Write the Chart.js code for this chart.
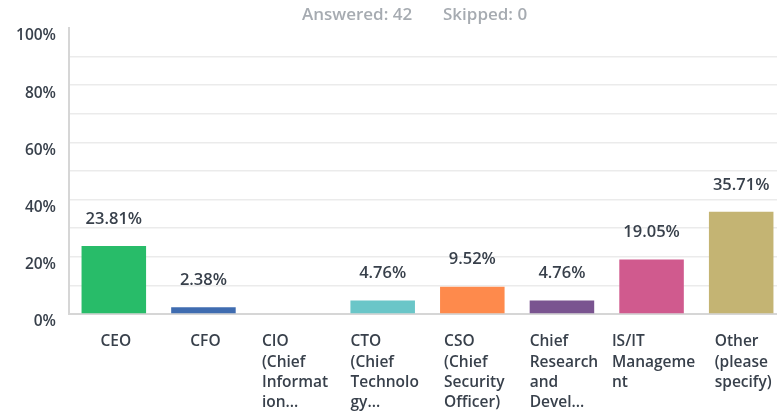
<!DOCTYPE html>
<html>
<head>
<meta charset="utf-8">
<script src="https://cdn.jsdelivr.net/npm/chart.js@4.4.1/dist/chart.umd.min.js"></script>
<style>
  html, body { margin: 0; padding: 0; background: #fff; overflow: hidden; }
  #wrap { width: 790px; height: 413px; position: relative; }
</style>
</head>
<body>
<div id="wrap"><canvas id="myChart"></canvas></div>
<script>
const categories = [
    ['CEO'],
    ['CFO'],
    ['CIO', '(Chief', 'Informat', 'ion...'],
    ['CTO', '(Chief', 'Technolo', 'gy...'],
    ['CSO', '(Chief', 'Security', 'Officer)'],
    ['Chief', 'Research', 'and', 'Devel...'],
    ['IS/IT', 'Manageme', 'nt'],
    ['Other', '(please', 'specify)']
];
const percentValues = [23.81, 2.38, 0, 4.76, 9.52, 4.76, 19.05, 35.71];
const barColors = ['#28bc69', '#3f6cb0', '#a0a0a0', '#6ac6c8', '#fe8a4c', '#7a5490', '#d05a8e', '#c4b473'];
const yTickLabels = ['0%', '20%', '40%', '60%', '80%', '100%'];
const summaryParts = ['Answered: 42', 'Skipped: 0'];

const textColor = '#38404b';
const fontFamily = '"Open Sans", "Noto Sans", sans-serif';

// draws value labels above bars, multi-line category labels and the summary line
const surveyLabels = {
    id: 'surveyLabels',
    afterDraw(chart) {
        const c = chart.ctx;
        const meta = chart.getDatasetMeta(0);
        const xScale = chart.scales.x;
        c.save();

        c.font = '600 16.5px ' + fontFamily;
        c.fillStyle = textColor;
        c.textAlign = 'center';
        c.textBaseline = 'middle';
        meta.data.forEach(function (bar, i) {
            if (percentValues[i] > 0) {
                c.fillText(percentValues[i].toFixed(2) + '%', bar.x, bar.y - 27);
            }
        });

        c.font = '600 15.5px ' + fontFamily;
        c.textAlign = 'left';
        categories.forEach(function (lines, i) {
            const cx = xScale.getPixelForValue(i);
            let w = 0;
            lines.forEach(function (l) { w = Math.max(w, c.measureText(l).width); });
            lines.forEach(function (l, j) {
                c.fillText(l, cx - w / 2 + 2, chart.chartArea.bottom + 28 + j * 20.3);
            });
        });

        c.font = '600 17px ' + fontFamily;
        c.fillStyle = '#a6abb1';
        c.textAlign = 'left';
        c.fillText(summaryParts[0], 302, 15);
        c.fillText(summaryParts[1], 443, 15);
        c.restore();
    }
};

const ctx = document.getElementById('myChart');

new Chart(ctx, {
    type: 'bar',
    data: {
        labels: categories.map(function (l) { return l.join(' '); }),
        datasets: [{
            data: percentValues,
            backgroundColor: barColors,
            barPercentage: 0.72,
            categoryPercentage: 1.0
        }]
    },
    options: {
        responsive: true,
        maintainAspectRatio: false,
        animation: false,
        layout: { padding: { top: 28, bottom: 0, left: 0, right: 4 } },
        plugins: {
            legend: { display: false },
            tooltip: { enabled: false }
        },
        scales: {
            x: {
                grid: { display: false },
                border: { color: '#d6d6d6', width: 2 },
                ticks: { display: false },
                afterFit: function (scale) { scale.height = 99; }
            },
            y: {
                min: 0,
                max: 100,
                border: { color: '#d6d6d6', width: 2 },
                grid: {
                    color: function (c) { return c.tick.value === 100 ? 'rgba(0,0,0,0)' : '#ebebeb'; },
                    lineWidth: 1.5,
                    drawTicks: false
                },
                ticks: {
                    stepSize: 10,
                    padding: 13,
                    labelOffset: 8,
                    color: textColor,
                    font: { family: fontFamily, size: 15.5, weight: '600' },
                    callback: function (value) {
                        return value % 20 === 0 ? yTickLabels[value / 20] : '';
                    }
                },
                afterFit: function (scale) { scale.width = 69; }
            }
        }
    },
    plugins: [surveyLabels]
});
</script>
</body>
</html>
